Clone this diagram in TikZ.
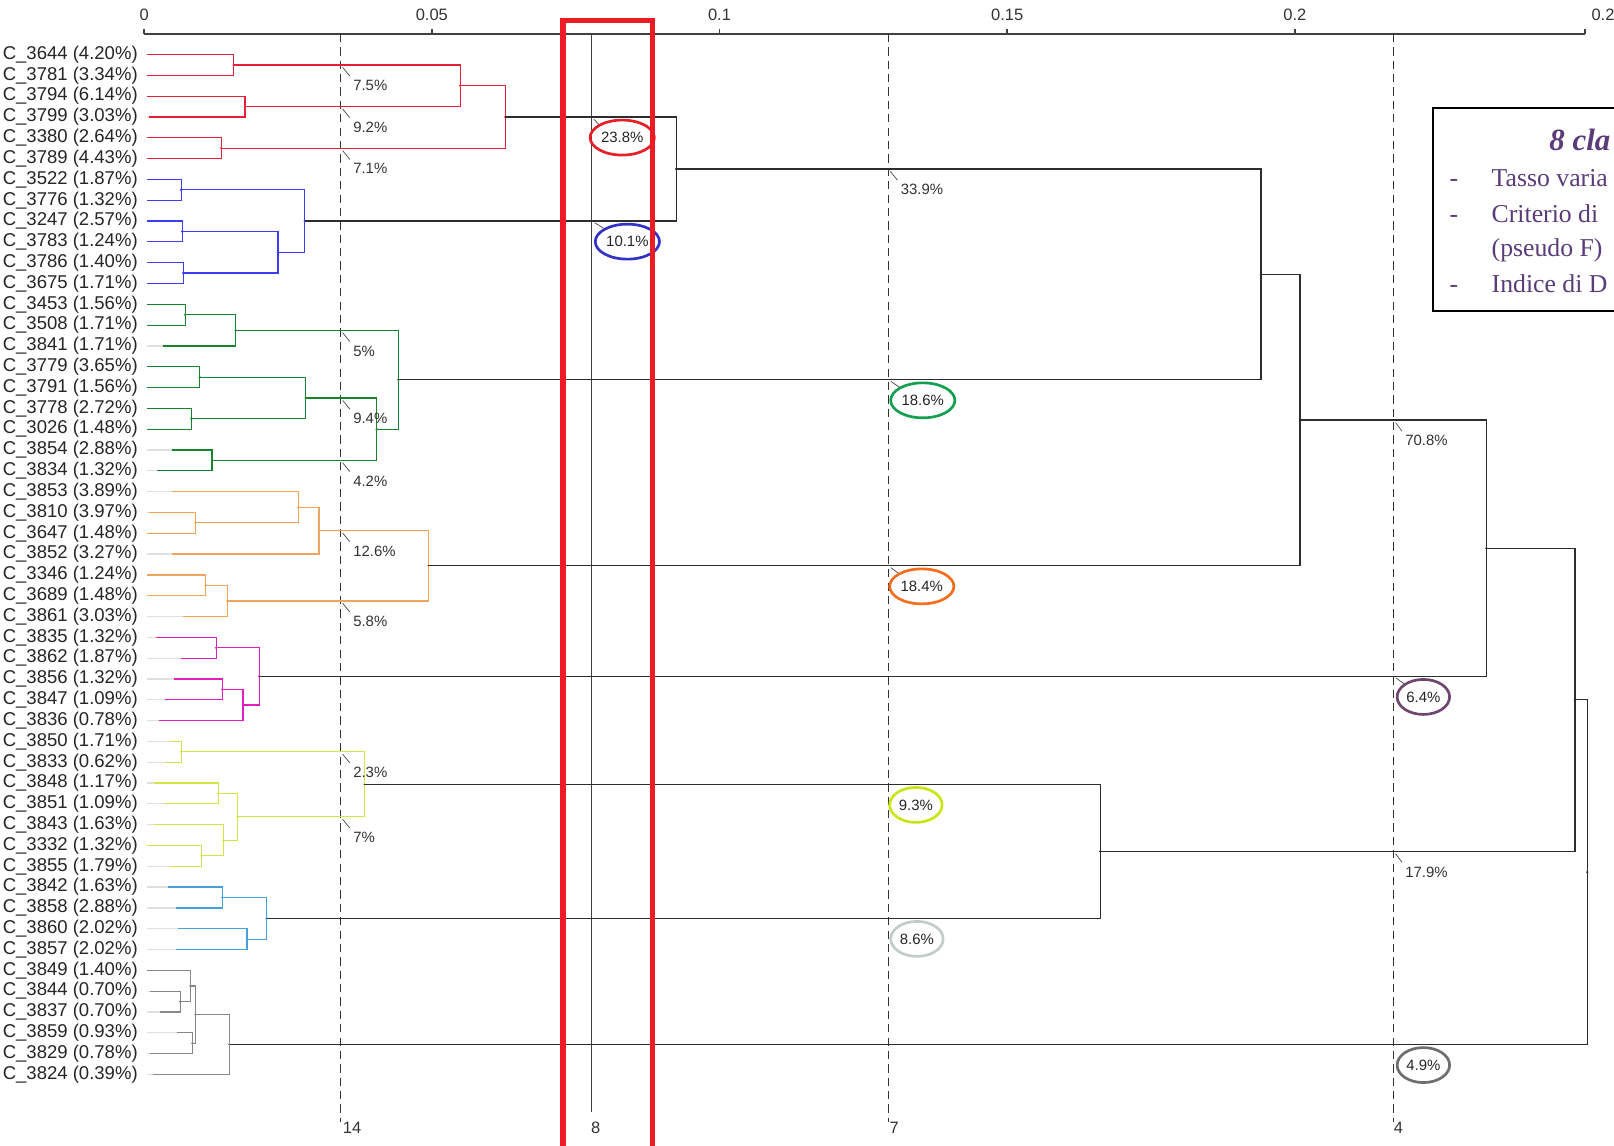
\documentclass[tikz,border=0pt]{standalone}
\usepackage{fontspec}
\setmainfont{Liberation Sans}
\newfontfamily\legendfont{Liberation Serif}
\usetikzlibrary{calc,shapes.geometric}

\definecolor{redc}{RGB}{228,32,56}
\definecolor{bluec}{RGB}{60,60,240}
\definecolor{greenc}{RGB}{25,130,45}
\definecolor{orangec}{RGB}{240,165,90}
\definecolor{magc}{RGB}{225,30,190}
\definecolor{ylwc}{RGB}{210,228,70}
\definecolor{lbluec}{RGB}{70,160,220}
\definecolor{grayc}{RGB}{135,135,135}
\definecolor{linkc}{RGB}{45,45,45}
\definecolor{legc}{RGB}{90,60,120}
\definecolor{boxred}{RGB}{237,28,36}
\definecolor{ellred}{RGB}{230,30,40}
\definecolor{ellblue}{RGB}{50,50,200}
\definecolor{ellgreen}{RGB}{20,160,80}
\definecolor{ellorange}{RGB}{245,110,30}
\definecolor{ellylw}{RGB}{200,230,20}
\definecolor{ellgray}{RGB}{195,205,200}
\definecolor{ellpurple}{RGB}{110,70,110}
\definecolor{elldark}{RGB}{110,110,110}

\tikzset{
  link/.style={line width=1.2pt},
  stub/.style={line width=1.2pt, draw=black!12},
  axis/.style={line width=1.4pt, draw=black!75},
  leaflab/.style={anchor=east, inner sep=0pt, text=black!85, font=\fontsize{18}{18}\selectfont},
  ticklab/.style={anchor=base, inner sep=0pt, text=black!80, font=\fontsize{16}{16}\selectfont},
  cutlab/.style={anchor=west, inner sep=0pt, text=black!80, font=\fontsize{16}{16}\selectfont},
  pct/.style={anchor=west, inner sep=0pt, text=black!80, font=\fontsize{14.5}{14.5}\selectfont},
  pctell/.style={ellipse, anchor=west, draw=#1, line width=2.6pt, inner sep=1.5pt,
    minimum height=34pt, text=black!85, font=\fontsize{14.5}{14.5}\selectfont},
  leader/.style={line width=.7pt, draw=black!70, shorten <=3pt, shorten >=5pt},
  cutline/.style={line width=1pt, draw=black!80, dash pattern=on 8pt off 5pt},
  legtxt/.style={anchor=base west, inner sep=0pt, text=legc, font=\legendfont\fontsize{25}{25}\selectfont},
  legttl/.style={anchor=base west, inner sep=0pt, text=legc,
    font=\legendfont\bfseries\itshape\fontsize{30}{30}\selectfont},
}

% merge: [colour]{name}{height}{child a}{child b}
\newcommand{\mrg}[5][linkc]{%
  \path let \p1=(#4), \p2=(#5) in coordinate (#2) at (#3pt,{(\y1+\y2)/2});
  \draw[link,draw=#1] (#4) -| (#2) |- (#5);
  \fill[#1] (#2) circle (1.3pt);
}

\begin{document}
\begin{tikzpicture}[x=1pt,y=-1pt]
\useasboundingbox (0,0) rectangle (1568,1113);
\begin{scope}
\clip (0,0) rectangle (1568,1113);
\fill[white] (0,0) rectangle (1568,1113);

% axis
\draw[axis] (140,33) coordinate (ax0) -- (1540,33) coordinate (ax5);
\foreach \k/\t in {0/0,1/0.05,2/0.1,3/0.15,4/0.2} {
  \draw[axis] ({140+279.5*\k},33) -- ++(0,-5);
  \node[ticklab] (tk\k) at ({140+279.5*\k},20) {\t};
}
\draw[axis] (ax5) -- ++(0,-5);
\node[ticklab,anchor=base west] (tk5) at (1546,20) {0.25};

% cuts
\coordinate (cut14) at (331,33);
\coordinate (cut8) at (575,33);
\coordinate (cut7) at (863,33);
\coordinate (cut4) at (1354,33);
\node[cutlab] (n14) at (333,1096) {14};
\node[cutlab] (n8) at (574,1096) {8};
\node[cutlab] (n7) at (864,1096) {7};
\node[cutlab] (n4) at (1354,1096) {4};
\draw[cutline] (cut14) -- (cut14 |- n14.north);
\draw[cutline] (cut7) -- (cut7 |- n7.north);
\draw[cutline] (cut4) -- (cut4 |- n4.north);
\draw[line width=1.1pt, draw=black!75, shorten >=10pt] (cut8) -- (cut8 |- n8.north);

% leaves
\foreach \nm/\pc/\sx [count=\i from 0] in {
  3644/4.20/143, 3781/3.34/143, 3794/6.14/143, 3799/3.03/145, 3380/2.64/143, 3789/4.43/143,
  3522/1.87/143, 3776/1.32/143, 3247/2.57/143, 3783/1.24/143, 3786/1.40/143, 3675/1.71/143,
  3453/1.56/143, 3508/1.71/143, 3841/1.71/158, 3779/3.65/143, 3791/1.56/143, 3778/2.72/143,
  3026/1.48/143, 3854/2.88/167, 3834/1.32/153,
  3853/3.89/167, 3810/3.97/145, 3647/1.48/143, 3852/3.27/167, 3346/1.24/143, 3689/1.48/143,
  3861/3.03/178,
  3835/1.32/152, 3862/1.87/176, 3856/1.32/169, 3847/1.09/160, 3836/0.78/154,
  3850/1.71/165, 3833/0.62/160, 3848/1.17/150, 3851/1.09/160, 3843/1.63/150, 3332/1.32/143,
  3855/1.79/165,
  3842/1.63/163, 3858/2.88/171, 3860/2.02/173, 3857/2.02/171,
  3849/1.40/143, 3844/0.70/146, 3837/0.70/155, 3859/0.93/172, 3829/0.78/146, 3824/0.39/149} {
  \node[leaflab] (lab\i) at (134,{53+20.22*\i}) {C\_\nm{} (\pc\%)};
  \coordinate (L\i) at (\sx,{53+20.22*\i});
  \draw[stub] (143,{53+20.22*\i}) -- (L\i);
}

% red
\mrg[redc]{r1}{227}{L0}{L1}
\mrg[redc]{r2}{238}{L2}{L3}
\mrg[redc]{r3}{447}{r1}{r2}
\mrg[redc]{r4}{215}{L4}{L5}
\mrg[redc]{R}{491}{r3}{r4}

% blue
\mrg[bluec]{b1}{176}{L6}{L7}
\mrg[bluec]{b2}{177}{L8}{L9}
\mrg[bluec]{b3}{178}{L10}{L11}
\mrg[bluec]{b4}{270}{b2}{b3}
\mrg[bluec]{B}{296}{b1}{b4}

\mrg{RB}{657}{R}{B}

% green
\mrg[greenc]{g1}{180}{L12}{L13}
\mrg[greenc]{g2}{229}{g1}{L14}
\mrg[greenc]{g3}{194}{L15}{L16}
\mrg[greenc]{g4}{186}{L17}{L18}
\mrg[greenc]{g5}{297}{g3}{g4}
\mrg[greenc]{g6}{206}{L19}{L20}
\mrg[greenc]{g7}{366}{g5}{g6}
\mrg[greenc]{G}{387}{g2}{g7}

\mrg{RBG}{1225}{RB}{G}

% orange
\mrg[orangec]{o1}{190}{L22}{L23}
\mrg[orangec]{o2}{290}{L21}{o1}
\mrg[orangec]{o3}{310}{o2}{L24}
\mrg[orangec]{o4}{200}{L25}{L26}
\mrg[orangec]{o5}{221}{o4}{L27}
\mrg[orangec]{O}{416}{o3}{o5}

\mrg{RBGO}{1263}{RBG}{O}

% magenta
\mrg[magc]{m1}{210}{L28}{L29}
\mrg[magc]{m2}{216}{L30}{L31}
\mrg[magc]{m3}{236}{m2}{L32}
\mrg[magc]{M}{252}{m1}{m3}

\mrg{RBGOM}{1444}{RBGO}{M}

% yellow
\mrg[ylwc]{y1}{176}{L33}{L34}
\mrg[ylwc]{y2}{212}{L35}{L36}
\mrg[ylwc]{y3}{196}{L38}{L39}
\mrg[ylwc]{y4}{217}{L37}{y3}
\mrg[ylwc]{y5}{231}{y2}{y4}
\mrg[ylwc]{Yg}{354}{y1}{y5}

% light blue
\mrg[lbluec]{c1}{216}{L40}{L41}
\mrg[lbluec]{c2}{240}{L42}{L43}
\mrg[lbluec]{LB}{259}{c1}{c2}

\mrg{YLB}{1069}{Yg}{LB}

% gray
\mrg[grayc]{k1}{175}{L45}{L46}
\mrg[grayc]{k2}{185}{L44}{k1}
\mrg[grayc]{k3}{187}{L47}{L48}
\mrg[grayc]{k4}{190}{k2}{k3}
\mrg[grayc]{K}{223}{k4}{L49}

\mrg{top}{1530}{RBGOM}{YLB}
\mrg{root}{1542}{top}{K}

% shares at cut 14
\node[pct] (p75) at ($(r1 -| cut14)+(12,20)$) {7.5\%};
\node[pct] (p92) at ($(r2 -| cut14)+(12,20)$) {9.2\%};
\node[pct] (p71) at ($(r4 -| cut14)+(12,20)$) {7.1\%};
\node[pct] (p5) at ($(g2 -| cut14)+(12,20)$) {5\%};
\node[pct] (p94) at ($(g5 -| cut14)+(12,20)$) {9.4\%};
\node[pct] (p42) at ($(g6 -| cut14)+(12,20)$) {4.2\%};
\node[pct] (p126) at ($(o3 -| cut14)+(12,20)$) {12.6\%};
\node[pct] (p58) at ($(o5 -| cut14)+(12,20)$) {5.8\%};
\node[pct] (p23) at ($(y1 -| cut14)+(12,20)$) {2.3\%};
\node[pct] (p7) at ($(y5 -| cut14)+(12,20)$) {7\%};
\draw[leader] (r1 -| cut14) -- (p75.north west);
\draw[leader] (r2 -| cut14) -- (p92.north west);
\draw[leader] (r4 -| cut14) -- (p71.north west);
\draw[leader] (g2 -| cut14) -- (p5.north west);
\draw[leader] (g5 -| cut14) -- (p94.north west);
\draw[leader] (g6 -| cut14) -- (p42.north west);
\draw[leader] (o3 -| cut14) -- (p126.north west);
\draw[leader] (o5 -| cut14) -- (p58.north west);
\draw[leader] (y1 -| cut14) -- (p23.north west);
\draw[leader] (y5 -| cut14) -- (p7.north west);

% shares at cut 8
\node[pctell=ellred] (p238) at ($(R -| cut8)+(-3,20)$) {23.8\%};
\node[pctell=ellblue] (p101) at ($(B -| cut8)+(2,20)$) {10.1\%};
\draw[leader,shorten >=0pt] (R -| cut8) -- (p238.north west);
\draw[leader,shorten >=0pt] (B -| cut8) -- (p101.north west);

% shares at cut 7
\node[pct] (p339) at ($(RB -| cut7)+(12,20)$) {33.9\%};
\node[pctell=ellgreen] (p186) at ($(G -| cut7)+(1,20)$) {18.6\%};
\node[pctell=ellorange] (p184) at ($(O -| cut7)+(0,20)$) {18.4\%};
\node[pctell=ellylw] (p93) at ($(Yg -| cut7)+(0,20)$) {9.3\%};
\node[pctell=ellgray] (p86) at ($(LB -| cut7)+(1,20)$) {8.6\%};
\draw[leader] (RB -| cut7) -- (p339.north west);
\draw[leader,shorten >=0pt] (G -| cut7) -- (p186.north west);
\draw[leader,shorten >=0pt] (O -| cut7) -- (p184.north west);

% shares at cut 4
\node[pct] (p708) at ($(RBGO -| cut4)+(11,20)$) {70.8\%};
\node[pctell=ellpurple] (p64) at ($(M -| cut4)+(2,20)$) {6.4\%};
\node[pct] (p179) at ($(YLB -| cut4)+(11,20)$) {17.9\%};
\node[pctell=elldark] (p49) at ($(K -| cut4)+(2,20)$) {4.9\%};
\draw[leader] (RBGO -| cut4) -- (p708.north west);
\draw[leader] (YLB -| cut4) -- (p179.north west);
\draw[leader,shorten >=0pt] (M -| cut4) -- (p64.north west);

% legend
\draw[line width=2.2pt] (1392,105) rectangle (1600,302);
\node[legttl] (ttl) at (1505,146) {8 cla};
\node[legtxt] (dsh1) at (1408,181) {-};
\node[legtxt] (it1) at (1449,181) {Tasso varia};
\node[legtxt] (dsh2) at (1408,216) {-};
\node[legtxt] (it2) at (1449,216) {Criterio di};
\node[legtxt] (it3) at (1449,249) {(pseudo F)};
\node[legtxt] (dsh3) at (1408,284) {-};
\node[legtxt] (it4) at (1449,284) {Indice di D};

% chosen cut
\draw[line width=5pt, draw=boxred] (547,20) rectangle (634,1140);
\end{scope}
\end{tikzpicture}
\end{document}
